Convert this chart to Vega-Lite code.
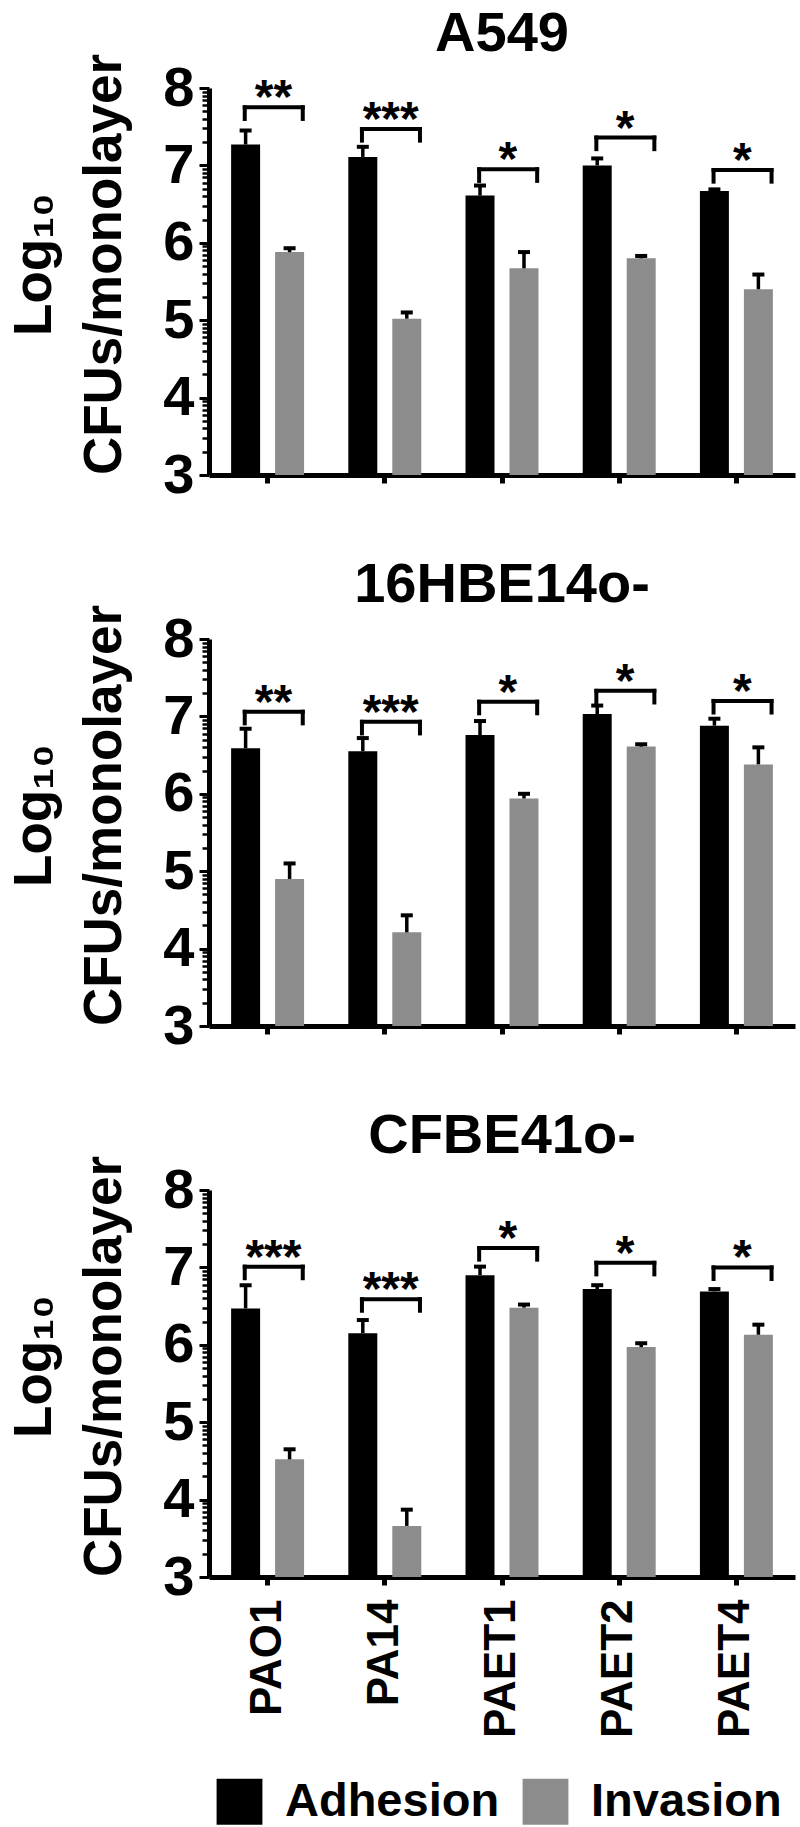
{
  "$schema": "https://vega.github.io/schema/vega-lite/v6.json",
  "background": "white",
  "padding": {"left": 7, "top": 6, "right": 5, "bottom": 3},
  "datasets": {
    "bars": [
      {"cell": "A549", "strain": "PAO1", "type": "Adhesion", "mean": 7.27, "upper": 7.45},
      {"cell": "A549", "strain": "PAO1", "type": "Invasion", "mean": 5.88, "upper": 5.93},
      {"cell": "A549", "strain": "PA14", "type": "Adhesion", "mean": 7.11, "upper": 7.24},
      {"cell": "A549", "strain": "PA14", "type": "Invasion", "mean": 5.02, "upper": 5.10},
      {"cell": "A549", "strain": "PAET1", "type": "Adhesion", "mean": 6.61, "upper": 6.74},
      {"cell": "A549", "strain": "PAET1", "type": "Invasion", "mean": 5.67, "upper": 5.88},
      {"cell": "A549", "strain": "PAET2", "type": "Adhesion", "mean": 7.00, "upper": 7.09},
      {"cell": "A549", "strain": "PAET2", "type": "Invasion", "mean": 5.80, "upper": 5.83},
      {"cell": "A549", "strain": "PAET4", "type": "Adhesion", "mean": 6.67, "upper": 6.69},
      {"cell": "A549", "strain": "PAET4", "type": "Invasion", "mean": 5.40, "upper": 5.59},
      {"cell": "16HBE14o-", "strain": "PAO1", "type": "Adhesion", "mean": 6.59, "upper": 6.84},
      {"cell": "16HBE14o-", "strain": "PAO1", "type": "Invasion", "mean": 4.90, "upper": 5.10},
      {"cell": "16HBE14o-", "strain": "PA14", "type": "Adhesion", "mean": 6.55, "upper": 6.72},
      {"cell": "16HBE14o-", "strain": "PA14", "type": "Invasion", "mean": 4.21, "upper": 4.43},
      {"cell": "16HBE14o-", "strain": "PAET1", "type": "Adhesion", "mean": 6.76, "upper": 6.94},
      {"cell": "16HBE14o-", "strain": "PAET1", "type": "Invasion", "mean": 5.94, "upper": 6.00},
      {"cell": "16HBE14o-", "strain": "PAET2", "type": "Adhesion", "mean": 7.03, "upper": 7.14},
      {"cell": "16HBE14o-", "strain": "PAET2", "type": "Invasion", "mean": 6.61, "upper": 6.64},
      {"cell": "16HBE14o-", "strain": "PAET4", "type": "Adhesion", "mean": 6.88, "upper": 6.97},
      {"cell": "16HBE14o-", "strain": "PAET4", "type": "Invasion", "mean": 6.38, "upper": 6.60},
      {"cell": "CFBE41o-", "strain": "PAO1", "type": "Adhesion", "mean": 6.47, "upper": 6.77},
      {"cell": "CFBE41o-", "strain": "PAO1", "type": "Invasion", "mean": 4.52, "upper": 4.65},
      {"cell": "CFBE41o-", "strain": "PA14", "type": "Adhesion", "mean": 6.15, "upper": 6.32},
      {"cell": "CFBE41o-", "strain": "PA14", "type": "Invasion", "mean": 3.66, "upper": 3.87},
      {"cell": "CFBE41o-", "strain": "PAET1", "type": "Adhesion", "mean": 6.90, "upper": 7.01},
      {"cell": "CFBE41o-", "strain": "PAET1", "type": "Invasion", "mean": 6.48, "upper": 6.52},
      {"cell": "CFBE41o-", "strain": "PAET2", "type": "Adhesion", "mean": 6.72, "upper": 6.77},
      {"cell": "CFBE41o-", "strain": "PAET2", "type": "Invasion", "mean": 5.97, "upper": 6.02},
      {"cell": "CFBE41o-", "strain": "PAET4", "type": "Adhesion", "mean": 6.69, "upper": 6.72},
      {"cell": "CFBE41o-", "strain": "PAET4", "type": "Invasion", "mean": 6.13, "upper": 6.26}
    ],
    "sig": [
      {"cell": "A549", "strain": "PAO1", "line": 7.75, "drop": 7.60, "stars": "**"},
      {"cell": "A549", "strain": "PA14", "line": 7.47, "drop": 7.32, "stars": "***"},
      {"cell": "A549", "strain": "PAET1", "line": 6.95, "drop": 6.80, "stars": "*"},
      {"cell": "A549", "strain": "PAET2", "line": 7.36, "drop": 7.21, "stars": "*"},
      {"cell": "A549", "strain": "PAET4", "line": 6.94, "drop": 6.79, "stars": "*"},
      {"cell": "16HBE14o-", "strain": "PAO1", "line": 7.06, "drop": 6.91, "stars": "**"},
      {"cell": "16HBE14o-", "strain": "PA14", "line": 6.93, "drop": 6.78, "stars": "***"},
      {"cell": "16HBE14o-", "strain": "PAET1", "line": 7.19, "drop": 7.04, "stars": "*"},
      {"cell": "16HBE14o-", "strain": "PAET2", "line": 7.33, "drop": 7.18, "stars": "*"},
      {"cell": "16HBE14o-", "strain": "PAET4", "line": 7.20, "drop": 7.05, "stars": "*"},
      {"cell": "CFBE41o-", "strain": "PAO1", "line": 7.01, "drop": 6.86, "stars": "***"},
      {"cell": "CFBE41o-", "strain": "PA14", "line": 6.59, "drop": 6.44, "stars": "***"},
      {"cell": "CFBE41o-", "strain": "PAET1", "line": 7.25, "drop": 7.10, "stars": "*"},
      {"cell": "CFBE41o-", "strain": "PAET2", "line": 7.06, "drop": 6.91, "stars": "*"},
      {"cell": "CFBE41o-", "strain": "PAET4", "line": 7.00, "drop": 6.85, "stars": "*"}
    ]
  },
  "spacing": 54,
  "vconcat": [
    {
      "title": {"text": "A549"},
      "width": 586,
      "height": 387,
      "resolve": {"axis": {"y": "independent"}},
      "layer": [
        {
          "data": {"name": "bars"},
          "transform": [{"filter": "datum.cell === 'A549'"}],
          "mark": {"type": "bar"},
          "encoding": {
            "x": {"field": "strain", "type": "nominal", "scale": {"domain": ["PAO1", "PA14", "PAET1", "PAET2", "PAET4"], "paddingInner": 0, "paddingOuter": 0},
                  "axis": {"title": null, "labels": false, "domainWidth": 5, "domainColor": "black", "tickSize": 8, "tickWidth": 5, "tickColor": "black"}},
            "xOffset": {"field": "type", "type": "nominal", "scale": {"domain": ["Adhesion", "Invasion"], "paddingInner": 0.341, "paddingOuter": 0.503}},
            "y": {"field": "mean", "type": "quantitative", "scale": {"domain": [3, 8], "nice": false, "zero": false},
                  "axis": {"orient": "left", "title": ["Log₁₀", "CFUs/monolayer"], "grid": false, "values": [3, 4, 5, 6, 7, 8], "format": "d",
                           "labelOverlap": false, "labelFontSize": 56, "labelPadding": 5, "tickSize": 10, "tickWidth": 3, "domainWidth": 5,
                           "titleFontSize": 53, "titleLineHeight": 70, "titleBaseline": "alphabetic", "titleAlign": "center", "titleX": -159, "titleY": 176}},
            "y2": {"datum": 3},
            "color": {"field": "type", "type": "nominal", "scale": {"domain": ["Adhesion", "Invasion"], "range": ["#000000", "#8c8c8c"]},
                      "legend": {"orient": "bottom", "direction": "horizontal", "title": null, "symbolType": "square", "symbolSize": 2100, "symbolStrokeWidth": 0, "labelFontSize": 47, "labelFontWeight": "bold", "labelLimit": 0, "labelOffset": 22, "columnPadding": 22, "offset": 33, "padding": 7}}
          }
        },
        {
          "data": {"name": "bars"},
          "transform": [{"filter": "datum.cell === 'A549'"}],
          "mark": {"type": "rule", "strokeWidth": 3.5, "color": "black"},
          "encoding": {
            "x": {"field": "strain", "type": "nominal", "scale": {"domain": ["PAO1", "PA14", "PAET1", "PAET2", "PAET4"]}},
            "xOffset": {"field": "type", "type": "nominal", "scale": {"domain": ["Adhesion", "Invasion"]}},
            "y": {"field": "mean", "type": "quantitative",
                  "axis": {"orient": "left", "title": null, "labels": false, "domain": false, "grid": false, "tickSize": 7, "tickWidth": 2.5, "tickColor": "black",
                           "values": [3.30103,3.47712,3.60206,3.69897,3.77815,3.8451,3.90309,3.95424,4.30103,4.47712,4.60206,4.69897,4.77815,4.8451,4.90309,4.95424,5.30103,5.47712,5.60206,5.69897,5.77815,5.8451,5.90309,5.95424,6.30103,6.47712,6.60206,6.69897,6.77815,6.8451,6.90309,6.95424,7.30103,7.47712,7.60206,7.69897,7.77815,7.8451,7.90309,7.95424]}},
            "y2": {"field": "upper"}
          }
        },
        {
          "data": {"name": "bars"},
          "transform": [{"filter": "datum.cell === 'A549'"}],
          "mark": {"type": "tick", "orient": "horizontal", "size": 12, "thickness": 4, "color": "black", "opacity": 1},
          "encoding": {
            "x": {"field": "strain", "type": "nominal", "scale": {"domain": ["PAO1", "PA14", "PAET1", "PAET2", "PAET4"]}},
            "xOffset": {"field": "type", "type": "nominal", "scale": {"domain": ["Adhesion", "Invasion"]}},
            "y": {"field": "upper", "type": "quantitative", "axis": null}
          }
        },
        {
          "data": {"name": "sig"},
          "transform": [{"filter": "datum.cell === 'A549'"}],
          "mark": {"type": "rule", "strokeWidth": 4, "color": "black", "strokeCap": "square"},
          "encoding": {
            "x": {"field": "strain", "type": "nominal", "bandPosition": 0.305, "scale": {"domain": ["PAO1", "PA14", "PAET1", "PAET2", "PAET4"]}},
            "x2": {"field": "strain", "bandPosition": 0.8},
            "y": {"field": "line", "type": "quantitative", "axis": null}
          }
        },
        {
          "data": {"name": "sig"},
          "transform": [{"filter": "datum.cell === 'A549'"}],
          "mark": {"type": "rule", "strokeWidth": 4, "color": "black", "strokeCap": "square"},
          "encoding": {
            "x": {"field": "strain", "type": "nominal", "bandPosition": 0.305, "scale": {"domain": ["PAO1", "PA14", "PAET1", "PAET2", "PAET4"]}},
            "y": {"field": "line", "type": "quantitative", "axis": null},
            "y2": {"field": "drop"}
          }
        },
        {
          "data": {"name": "sig"},
          "transform": [{"filter": "datum.cell === 'A549'"}],
          "mark": {"type": "rule", "strokeWidth": 4, "color": "black", "strokeCap": "square"},
          "encoding": {
            "x": {"field": "strain", "type": "nominal", "bandPosition": 0.8, "scale": {"domain": ["PAO1", "PA14", "PAET1", "PAET2", "PAET4"]}},
            "y": {"field": "line", "type": "quantitative", "axis": null},
            "y2": {"field": "drop"}
          }
        },
        {
          "data": {"name": "sig"},
          "transform": [{"filter": "datum.cell === 'A549'"}],
          "mark": {"type": "text", "fontSize": 48, "fontWeight": "bold", "baseline": "alphabetic", "align": "center", "dy": 6, "color": "black"},
          "encoding": {
            "x": {"field": "strain", "type": "nominal", "bandPosition": 0.55, "scale": {"domain": ["PAO1", "PA14", "PAET1", "PAET2", "PAET4"]}},
            "y": {"field": "line", "type": "quantitative", "axis": null},
            "text": {"field": "stars"}
          }
        }
      ]
    },
    {
      "title": {"text": "16HBE14o-"},
      "width": 586,
      "height": 387,
      "resolve": {"axis": {"y": "independent"}},
      "layer": [
        {
          "data": {"name": "bars"},
          "transform": [{"filter": "datum.cell === '16HBE14o-'"}],
          "mark": {"type": "bar"},
          "encoding": {
            "x": {"field": "strain", "type": "nominal", "scale": {"domain": ["PAO1", "PA14", "PAET1", "PAET2", "PAET4"], "paddingInner": 0, "paddingOuter": 0},
                  "axis": {"title": null, "labels": false, "domainWidth": 5, "domainColor": "black", "tickSize": 8, "tickWidth": 5, "tickColor": "black"}},
            "xOffset": {"field": "type", "type": "nominal", "scale": {"domain": ["Adhesion", "Invasion"], "paddingInner": 0.341, "paddingOuter": 0.503}},
            "y": {"field": "mean", "type": "quantitative", "scale": {"domain": [3, 8], "nice": false, "zero": false},
                  "axis": {"orient": "left", "title": ["Log₁₀", "CFUs/monolayer"], "grid": false, "values": [3, 4, 5, 6, 7, 8], "format": "d",
                           "labelOverlap": false, "labelFontSize": 56, "labelPadding": 5, "tickSize": 10, "tickWidth": 3, "domainWidth": 5,
                           "titleFontSize": 53, "titleLineHeight": 70, "titleBaseline": "alphabetic", "titleAlign": "center", "titleX": -159, "titleY": 176}},
            "y2": {"datum": 3},
            "color": {"field": "type", "type": "nominal", "scale": {"domain": ["Adhesion", "Invasion"], "range": ["#000000", "#8c8c8c"]},
                      "legend": {"orient": "bottom", "direction": "horizontal", "title": null, "symbolType": "square", "symbolSize": 2100, "symbolStrokeWidth": 0, "labelFontSize": 47, "labelFontWeight": "bold", "labelLimit": 0, "labelOffset": 22, "columnPadding": 22, "offset": 33, "padding": 7}}
          }
        },
        {
          "data": {"name": "bars"},
          "transform": [{"filter": "datum.cell === '16HBE14o-'"}],
          "mark": {"type": "rule", "strokeWidth": 3.5, "color": "black"},
          "encoding": {
            "x": {"field": "strain", "type": "nominal", "scale": {"domain": ["PAO1", "PA14", "PAET1", "PAET2", "PAET4"]}},
            "xOffset": {"field": "type", "type": "nominal", "scale": {"domain": ["Adhesion", "Invasion"]}},
            "y": {"field": "mean", "type": "quantitative",
                  "axis": {"orient": "left", "title": null, "labels": false, "domain": false, "grid": false, "tickSize": 7, "tickWidth": 2.5, "tickColor": "black",
                           "values": [3.30103,3.47712,3.60206,3.69897,3.77815,3.8451,3.90309,3.95424,4.30103,4.47712,4.60206,4.69897,4.77815,4.8451,4.90309,4.95424,5.30103,5.47712,5.60206,5.69897,5.77815,5.8451,5.90309,5.95424,6.30103,6.47712,6.60206,6.69897,6.77815,6.8451,6.90309,6.95424,7.30103,7.47712,7.60206,7.69897,7.77815,7.8451,7.90309,7.95424]}},
            "y2": {"field": "upper"}
          }
        },
        {
          "data": {"name": "bars"},
          "transform": [{"filter": "datum.cell === '16HBE14o-'"}],
          "mark": {"type": "tick", "orient": "horizontal", "size": 12, "thickness": 4, "color": "black", "opacity": 1},
          "encoding": {
            "x": {"field": "strain", "type": "nominal", "scale": {"domain": ["PAO1", "PA14", "PAET1", "PAET2", "PAET4"]}},
            "xOffset": {"field": "type", "type": "nominal", "scale": {"domain": ["Adhesion", "Invasion"]}},
            "y": {"field": "upper", "type": "quantitative", "axis": null}
          }
        },
        {
          "data": {"name": "sig"},
          "transform": [{"filter": "datum.cell === '16HBE14o-'"}],
          "mark": {"type": "rule", "strokeWidth": 4, "color": "black", "strokeCap": "square"},
          "encoding": {
            "x": {"field": "strain", "type": "nominal", "bandPosition": 0.305, "scale": {"domain": ["PAO1", "PA14", "PAET1", "PAET2", "PAET4"]}},
            "x2": {"field": "strain", "bandPosition": 0.8},
            "y": {"field": "line", "type": "quantitative", "axis": null}
          }
        },
        {
          "data": {"name": "sig"},
          "transform": [{"filter": "datum.cell === '16HBE14o-'"}],
          "mark": {"type": "rule", "strokeWidth": 4, "color": "black", "strokeCap": "square"},
          "encoding": {
            "x": {"field": "strain", "type": "nominal", "bandPosition": 0.305, "scale": {"domain": ["PAO1", "PA14", "PAET1", "PAET2", "PAET4"]}},
            "y": {"field": "line", "type": "quantitative", "axis": null},
            "y2": {"field": "drop"}
          }
        },
        {
          "data": {"name": "sig"},
          "transform": [{"filter": "datum.cell === '16HBE14o-'"}],
          "mark": {"type": "rule", "strokeWidth": 4, "color": "black", "strokeCap": "square"},
          "encoding": {
            "x": {"field": "strain", "type": "nominal", "bandPosition": 0.8, "scale": {"domain": ["PAO1", "PA14", "PAET1", "PAET2", "PAET4"]}},
            "y": {"field": "line", "type": "quantitative", "axis": null},
            "y2": {"field": "drop"}
          }
        },
        {
          "data": {"name": "sig"},
          "transform": [{"filter": "datum.cell === '16HBE14o-'"}],
          "mark": {"type": "text", "fontSize": 48, "fontWeight": "bold", "baseline": "alphabetic", "align": "center", "dy": 6, "color": "black"},
          "encoding": {
            "x": {"field": "strain", "type": "nominal", "bandPosition": 0.55, "scale": {"domain": ["PAO1", "PA14", "PAET1", "PAET2", "PAET4"]}},
            "y": {"field": "line", "type": "quantitative", "axis": null},
            "text": {"field": "stars"}
          }
        }
      ]
    },
    {
      "title": {"text": "CFBE41o-"},
      "width": 586,
      "height": 387,
      "resolve": {"axis": {"y": "independent"}},
      "layer": [
        {
          "data": {"name": "bars"},
          "transform": [{"filter": "datum.cell === 'CFBE41o-'"}],
          "mark": {"type": "bar"},
          "encoding": {
            "x": {"field": "strain", "type": "nominal", "scale": {"domain": ["PAO1", "PA14", "PAET1", "PAET2", "PAET4"], "paddingInner": 0, "paddingOuter": 0},
                  "axis": {"title": null, "labels": true, "labelAngle": -90, "labelFontSize": 44, "labelPadding": 14, "domainWidth": 5, "domainColor": "black", "tickSize": 8, "tickWidth": 5, "tickColor": "black"}},
            "xOffset": {"field": "type", "type": "nominal", "scale": {"domain": ["Adhesion", "Invasion"], "paddingInner": 0.341, "paddingOuter": 0.503}},
            "y": {"field": "mean", "type": "quantitative", "scale": {"domain": [3, 8], "nice": false, "zero": false},
                  "axis": {"orient": "left", "title": ["Log₁₀", "CFUs/monolayer"], "grid": false, "values": [3, 4, 5, 6, 7, 8], "format": "d",
                           "labelOverlap": false, "labelFontSize": 56, "labelPadding": 5, "tickSize": 10, "tickWidth": 3, "domainWidth": 5,
                           "titleFontSize": 53, "titleLineHeight": 70, "titleBaseline": "alphabetic", "titleAlign": "center", "titleX": -159, "titleY": 176}},
            "y2": {"datum": 3},
            "color": {"field": "type", "type": "nominal", "scale": {"domain": ["Adhesion", "Invasion"], "range": ["#000000", "#8c8c8c"]},
                      "legend": {"orient": "bottom", "direction": "horizontal", "title": null, "symbolType": "square", "symbolSize": 2100, "symbolStrokeWidth": 0, "labelFontSize": 47, "labelFontWeight": "bold", "labelLimit": 0, "labelOffset": 22, "columnPadding": 22, "offset": 33, "padding": 7}}
          }
        },
        {
          "data": {"name": "bars"},
          "transform": [{"filter": "datum.cell === 'CFBE41o-'"}],
          "mark": {"type": "rule", "strokeWidth": 3.5, "color": "black"},
          "encoding": {
            "x": {"field": "strain", "type": "nominal", "scale": {"domain": ["PAO1", "PA14", "PAET1", "PAET2", "PAET4"]}},
            "xOffset": {"field": "type", "type": "nominal", "scale": {"domain": ["Adhesion", "Invasion"]}},
            "y": {"field": "mean", "type": "quantitative",
                  "axis": {"orient": "left", "title": null, "labels": false, "domain": false, "grid": false, "tickSize": 7, "tickWidth": 2.5, "tickColor": "black",
                           "values": [3.30103,3.47712,3.60206,3.69897,3.77815,3.8451,3.90309,3.95424,4.30103,4.47712,4.60206,4.69897,4.77815,4.8451,4.90309,4.95424,5.30103,5.47712,5.60206,5.69897,5.77815,5.8451,5.90309,5.95424,6.30103,6.47712,6.60206,6.69897,6.77815,6.8451,6.90309,6.95424,7.30103,7.47712,7.60206,7.69897,7.77815,7.8451,7.90309,7.95424]}},
            "y2": {"field": "upper"}
          }
        },
        {
          "data": {"name": "bars"},
          "transform": [{"filter": "datum.cell === 'CFBE41o-'"}],
          "mark": {"type": "tick", "orient": "horizontal", "size": 12, "thickness": 4, "color": "black", "opacity": 1},
          "encoding": {
            "x": {"field": "strain", "type": "nominal", "scale": {"domain": ["PAO1", "PA14", "PAET1", "PAET2", "PAET4"]}},
            "xOffset": {"field": "type", "type": "nominal", "scale": {"domain": ["Adhesion", "Invasion"]}},
            "y": {"field": "upper", "type": "quantitative", "axis": null}
          }
        },
        {
          "data": {"name": "sig"},
          "transform": [{"filter": "datum.cell === 'CFBE41o-'"}],
          "mark": {"type": "rule", "strokeWidth": 4, "color": "black", "strokeCap": "square"},
          "encoding": {
            "x": {"field": "strain", "type": "nominal", "bandPosition": 0.305, "scale": {"domain": ["PAO1", "PA14", "PAET1", "PAET2", "PAET4"]}},
            "x2": {"field": "strain", "bandPosition": 0.8},
            "y": {"field": "line", "type": "quantitative", "axis": null}
          }
        },
        {
          "data": {"name": "sig"},
          "transform": [{"filter": "datum.cell === 'CFBE41o-'"}],
          "mark": {"type": "rule", "strokeWidth": 4, "color": "black", "strokeCap": "square"},
          "encoding": {
            "x": {"field": "strain", "type": "nominal", "bandPosition": 0.305, "scale": {"domain": ["PAO1", "PA14", "PAET1", "PAET2", "PAET4"]}},
            "y": {"field": "line", "type": "quantitative", "axis": null},
            "y2": {"field": "drop"}
          }
        },
        {
          "data": {"name": "sig"},
          "transform": [{"filter": "datum.cell === 'CFBE41o-'"}],
          "mark": {"type": "rule", "strokeWidth": 4, "color": "black", "strokeCap": "square"},
          "encoding": {
            "x": {"field": "strain", "type": "nominal", "bandPosition": 0.8, "scale": {"domain": ["PAO1", "PA14", "PAET1", "PAET2", "PAET4"]}},
            "y": {"field": "line", "type": "quantitative", "axis": null},
            "y2": {"field": "drop"}
          }
        },
        {
          "data": {"name": "sig"},
          "transform": [{"filter": "datum.cell === 'CFBE41o-'"}],
          "mark": {"type": "text", "fontSize": 48, "fontWeight": "bold", "baseline": "alphabetic", "align": "center", "dy": 6, "color": "black"},
          "encoding": {
            "x": {"field": "strain", "type": "nominal", "bandPosition": 0.55, "scale": {"domain": ["PAO1", "PA14", "PAET1", "PAET2", "PAET4"]}},
            "y": {"field": "line", "type": "quantitative", "axis": null},
            "text": {"field": "stars"}
          }
        }
      ]
    }
  ],
  "config": {
    "view": {"stroke": null},
    "font": "Liberation Sans",
    "axis": {"labelFont": "Liberation Sans", "labelFontWeight": "bold", "labelColor": "black", "titleFont": "Liberation Sans", "titleFontWeight": "bold", "titleColor": "black", "domainColor": "black", "tickColor": "black"},
    "title": {"font": "Liberation Sans", "fontSize": 56, "fontWeight": "bold", "color": "black", "frame": "group", "anchor": "middle", "offset": -10, "baseline": "alphabetic"},
    "legend": {"labelFont": "Liberation Sans", "labelColor": "black"}
  }
}
